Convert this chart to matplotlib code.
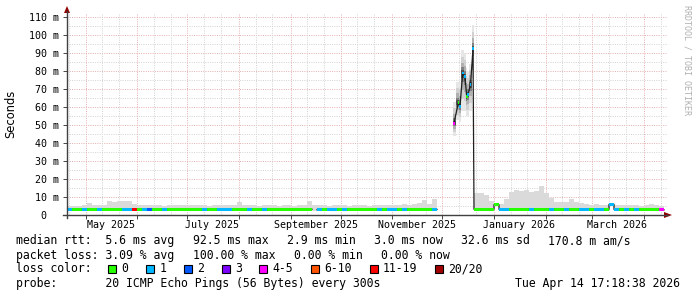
import numpy as np
import matplotlib
matplotlib.use("Agg")
import matplotlib.pyplot as plt
from matplotlib.patches import Rectangle, Polygon
from matplotlib.lines import Line2D
from datetime import datetime, timedelta

W, H = 697, 297

# ---------------- data ----------------
end_time = datetime(2026, 4, 14, 17, 18, 38)
span_days = 360
start_time = end_time - timedelta(days=span_days)

# segment 1 (late Apr -> mid Nov 2025), 3-day consolidation
seg1_start_day = 0.0
seg1_step = 3.0
seg1_median = [3.2, 3.2, 3.2, 3.2, 3.2, 3.2, 3.2, 3.2, 3.2, 3.2,
               3.2, 3.2, 3.2, 3.2, 3.2, 3.2, 3.2, 3.2, 3.2, 3.2,
               3.2, 3.2, 3.2, 3.2, 3.2, 3.2, 3.2, 3.2, 3.2, 3.2,
               3.2, 3.2, 3.2, 3.2, 3.2, 3.2, 3.2, 3.2, 3.2, 3.2,
               3.2, 3.2, 3.2, 3.2, 3.2, 3.2, 3.2, 3.2, 3.2, np.nan,
               3.0, 3.0, 3.0, 3.0, 3.0, 3.0, 3.0, 3.0, 3.0, 3.0,
               3.0, 3.0, 3.0, 3.0, 3.0, 3.0, 3.0, 3.1, 3.1, 3.1,
               3.1, 3.1, 3.1, 3.1]
seg1_smoke_hi = [5.0, 5.2, 5.0, 5.3, 6.5, 5.5, 5.3, 5.5, 8.0, 7.5,
                 7.8, 8.0, 7.6, 6.0, 5.8, 5.5, 5.5, 5.3, 5.5, 5.2,
                 5.5, 5.3, 5.5, 5.4, 5.3, 5.6, 5.3, 5.5, 5.2, 5.4,
                 5.6, 5.3, 5.4, 5.5, 7.0, 5.5, 5.3, 5.4, 5.2, 5.5,
                 5.3, 5.5, 5.2, 5.4, 5.3, 5.2, 5.4, 5.3, 7.8, 5.4,
                 5.3, 5.5, 5.2, 5.4, 5.3, 5.5, 5.2, 5.4, 5.5, 5.3,
                 5.2, 5.4, 5.6, 5.3, 5.5, 5.8, 5.5, 6.0, 5.8, 6.2,
                 6.5, 8.4, 6.3, 9.0]
seg1_loss = [1, 0, 0, 1, 0, 0, 1, 0, 0, 0,
             0, 1, 1, 12, 0, 1, 2, 0, 0, 1,
             0, 0, 0, 0, 0, 0, 0, 1, 0, 0,
             1, 1, 1, 0, 0, 0, 1, 0, 0, 1,
             0, 0, 0, 0, 0, 0, 0, 0, 0, 0,
             1, 0, 1, 1, 0, 1, 0, 0, 0, 0,
             0, 0, 1, 0, 1, 1, 0, 1, 0, 0,
             0, 0, 0, 1]

# latency spike (early Dec 2025)
spike_days = [232.2, 234.8, 235.8, 237.4, 238.8, 239.8, 240.6, 242.1, 243.6]
spike_median = [51.0, 62.5, 60.3, 79.0, 77.0, 66.0, 67.0, 72.5, 92.5]
spike_smoke_lo = [44.0, 53.0, 52.0, 58.0, 58.0, 55.0, 55.0, 58.0, 76.0]
spike_smoke_hi = [63.0, 74.0, 74.0, 92.0, 90.0, 82.0, 80.0, 84.0, 106.0]
spike_loss = [4, 0, 1, 1, 1, 0, 1, 1, 1]

# segment 2 (Dec 2025 -> Apr 2026), 3-day consolidation
seg2_start_day = 244.2
seg2_step = 3.0
seg2_median = [3.1, 3.1, 3.1, 3.1, 5.8, 3.1, 3.1, 3.1, 3.1, 3.1,
               3.1, 3.1, 3.1, 3.1, 3.1, 3.1, 3.1, 3.1, 3.1, 3.1,
               3.1, 3.0, 3.0, 3.0, 3.0, 3.0, 3.0, 6.0, 3.0, 2.9,
               2.9, 2.9, 2.9, 2.9, 2.9, 2.9, 2.9, 2.9]
seg2_smoke_hi = [12.0, 12.0, 11.0, 8.0, 6.5, 6.2, 9.0, 13.0, 14.0, 13.5,
                 14.0, 13.0, 13.5, 16.0, 12.5, 9.5, 7.5, 7.5, 7.0, 9.0,
                 7.0, 6.5, 6.0, 5.8, 6.0, 5.6, 5.8, 6.2, 5.5, 5.3,
                 5.6, 5.3, 5.5, 5.2, 5.4, 6.0, 5.5, 5.2]
seg2_loss = [0, 0, 0, 0, 0, 1, 1, 0, 0, 0,
             0, 1, 0, 0, 0, 1, 0, 0, 1, 0,
             0, 1, 1, 0, 1, 1, 0, 1, 1, 0,
             1, 0, 1, 0, 0, 0, 0, 4]

loss_labels = ["0", "1", "2", "3", "4-5", "6-10", "11-19", "20/20"]
loss_upper = [0, 1, 2, 3, 5, 10, 19, 20]
loss_colors = ["#26ff00", "#00b8ff", "#0059ff", "#7e00ff",
               "#ff00ff", "#ff5500", "#ff0000", "#a00000"]

stats_rtt = ["median rtt:  5.6 ms avg", "92.5 ms max", "2.9 ms min",
             "3.0 ms now", "32.6 ms sd", "170.8 m am/s"]
stats_loss = ["packet loss: 3.09 % avg", "100.00 % max", "0.00 % min", "0.00 % now"]
probe_text = "probe:       20 ICMP Echo Pings (56 Bytes) every 300s"
date_text = "Tue Apr 14 17:18:38 2026"

# ---------------- helpers ----------------
def fx(px):
    return px / W

def fy(py):
    return 1 - py / H

def day_of(d):
    return (d - start_time).total_seconds() / 86400.0

def loss_color(n):
    for up, c in zip(loss_upper, loss_colors):
        if n <= up:
            return c
    return loss_colors[-1]

MONO = "DejaVu Sans Mono"
FS = 8.3

fig = plt.figure(figsize=(W / 100, H / 100), dpi=100)
fig.patch.set_facecolor("white")
ax = fig.add_axes([fx(67), fy(215), fx(600), 202 / H])
ymax = 202 / 1.797
ax.set_xlim(0, span_days)
ax.set_ylim(0, ymax)
ax.set_facecolor("white")
for s in ax.spines.values():
    s.set_visible(False)

# ---------------- grid ----------------
grey_grid = "#d4d4d4"
red_grid = "#e8b2b2"
dot = (0, (1, 1.3))
for v in range(5, 115, 5):
    if v > ymax:
        continue
    ax.axhline(v, color=red_grid if v % 10 == 0 else grey_grid,
               lw=0.72, ls=dot, zorder=1)

month_starts = []
y, m = 2025, 4
while True:
    d = datetime(y, m, 1)
    if day_of(d) > span_days:
        break
    if day_of(d) >= 0:
        month_starts.append(d)
    m += 1
    if m > 12:
        m, y = 1, y + 1

minor_days = []
y, m = 2025, 4
for k in range(14):
    for dd in (11, 21):
        dv = day_of(datetime(y, m, dd))
        if 0 <= dv <= span_days:
            minor_days.append(dv)
    m += 1
    if m > 12:
        m, y = 1, y + 1
for dv in minor_days:
    ax.axvline(dv, color=grey_grid, lw=0.72, ls=dot, zorder=1)
for d in month_starts:
    ax.axvline(day_of(d), color=red_grid, lw=0.72, ls=dot, zorder=1)

# ---------------- smoke ----------------
smoke_col = "#dadada"
seg1_days = seg1_start_day + seg1_step * np.arange(len(seg1_median))
seg2_days = seg2_start_day + seg2_step * np.arange(len(seg2_median))
seg1_lo = np.array(seg1_median) - 0.6
seg2_lo = np.array(seg2_median) - 0.6
seg1_lo = np.where(np.isnan(seg1_lo), 2.4, seg1_lo)
for days, hi, lo, st in ((seg1_days, seg1_smoke_hi, seg1_lo, seg1_step),
                         (seg2_days, seg2_smoke_hi, seg2_lo, seg2_step)):
    hi = np.array(hi)
    ax.bar(days, hi - lo, bottom=lo, width=st, align="edge",
           color=smoke_col, lw=0, zorder=2)

sd = np.array(spike_days)
smed = np.array(spike_median)
slo = np.array(spike_smoke_lo)
shi = np.array(spike_smoke_hi)
edges = np.concatenate([[sd[0] - 0.7], (sd[1:] + sd[:-1]) / 2, [seg2_start_day]])
widths = np.diff(edges)
for f, c in ((1.0, "#e6e6e6"), (0.7, "#d0d0d0"), (0.45, "#b0b0b0"),
             (0.25, "#808080"), (0.12, "#505050")):
    lo = smed - f * (smed - slo)
    hi = smed + f * (shi - smed)
    ax.bar(edges[:-1], hi - lo, bottom=lo, width=widths, align="edge",
           color=c, lw=0, zorder=2)

# ---------------- median black line ----------------
def step_xy(days, vals, st):
    xs, ys = [], []
    for d, v in zip(days, vals):
        xs += [d, d + st]
        ys += [v, v]
    return xs, ys

x1, y1 = step_xy(seg1_days, seg1_median, seg1_step)
x2, y2 = step_xy(seg2_days, seg2_median, seg2_step)
lx = x1 + [np.nan] + list(sd) + x2
ly = y1 + [np.nan] + list(smed) + y2
ax.plot(lx, ly, color="#202020", lw=0.9, zorder=3, solid_joinstyle="miter")

# ---------------- loss coloured median bands ----------------
wband = 0.72
for days, med, loss, st in ((seg1_days, seg1_median, seg1_loss, seg1_step),
                            (seg2_days, seg2_median, seg2_loss, seg2_step)):
    for d, v, l in zip(days, med, loss):
        if np.isnan(v):
            continue
        ax.bar(d, 2 * wband, bottom=v - wband, width=st, align="edge",
               color=loss_color(l), lw=0, zorder=4)
for d, v, l in zip(sd, smed, spike_loss):
    ax.bar(d - 0.5, 2 * wband, bottom=v - wband, width=1.0, align="edge",
           color=loss_color(l), lw=0, zorder=4)

# ---------------- ticks & labels ----------------
yt = list(range(0, 111, 10))
ax.set_yticks(yt)
ax.set_yticklabels(["0  "] + [f"{v} m" for v in yt[1:]],
                   fontfamily=MONO, fontsize=7.2)
ax.tick_params(axis="y", length=3, width=0.7, color="#444444", pad=3)

ax.set_xticks([day_of(d) for d in month_starts])
ax.set_xticklabels([])
ax.tick_params(axis="x", which="major", length=3, width=0.7, color="#444444")
lab_months = [d for d in month_starts if d.month % 2 == 1]
ax.set_xticks([day_of(d) + 15 for d in lab_months], minor=True)
ax.set_xticklabels([d.strftime("%B %Y") for d in lab_months], minor=True,
                   fontfamily=MONO, fontsize=7.2)
ax.tick_params(axis="x", which="minor", length=0, pad=3.5)

# axis lines with arrows
axis_col = "#404040"
fig.add_artist(Line2D([fx(63), fx(668)], [fy(215), fy(215)], color=axis_col, lw=1.0))
fig.add_artist(Line2D([fx(67), fx(67)], [fy(218), fy(11)], color=axis_col, lw=1.0))
arrow_col = "#900000"
fig.add_artist(Polygon([[fx(664), fy(212)], [fx(664), fy(218)], [fx(672), fy(215)]],
                       closed=True, color=arrow_col, lw=0))
fig.add_artist(Polygon([[fx(64), fy(13)], [fx(70), fy(13)], [fx(67), fy(6)]],
                       closed=True, color=arrow_col, lw=0))

fig.text(fx(11), fy(114), "Seconds", rotation=90, ha="center", va="center",
         fontsize=FS, fontfamily="DejaVu Sans")
fig.text(fx(687.5), fy(5), "RRDTOOL / TOBI OETIKER", rotation=270,
         ha="center", va="top", fontsize=6.0, fontfamily=MONO, color="#b0b0b0")

# ---------------- legend ----------------
CW = 6.95
GLUE = 17.4
rows_y = [240.8, 255.2, 269.0, 283.4]

def place_items(items, y):
    x = 16.0
    for it in items:
        fig.text(fx(x), fy(y), it, ha="left", va="center", fontsize=FS, fontfamily=MONO)
        x += len(it) * CW + GLUE

place_items(stats_rtt, rows_y[0])
place_items(stats_loss, rows_y[1])

fig.text(fx(16), fy(rows_y[2]), "loss color:", ha="left", va="center",
         fontsize=FS, fontfamily=MONO)
bx = 108.3
for lab, col in zip(loss_labels, loss_colors):
    fig.add_artist(Rectangle((fx(bx), fy(rows_y[2] + 4)), 8 / W, 8 / H,
                             facecolor=col, edgecolor="black", lw=0.8))
    fig.text(fx(bx + 13.4), fy(rows_y[2]), lab, ha="left", va="center",
             fontsize=FS, fontfamily=MONO)
    bx += 13.4 + len(lab) * CW + GLUE

fig.text(fx(16), fy(rows_y[3]), probe_text, ha="left", va="center",
         fontsize=FS, fontfamily=MONO)
fig.text(fx(680), fy(rows_y[3]), date_text, ha="right", va="center",
         fontsize=FS, fontfamily=MONO)

fig.savefig("out.png", dpi=100, facecolor="white")
